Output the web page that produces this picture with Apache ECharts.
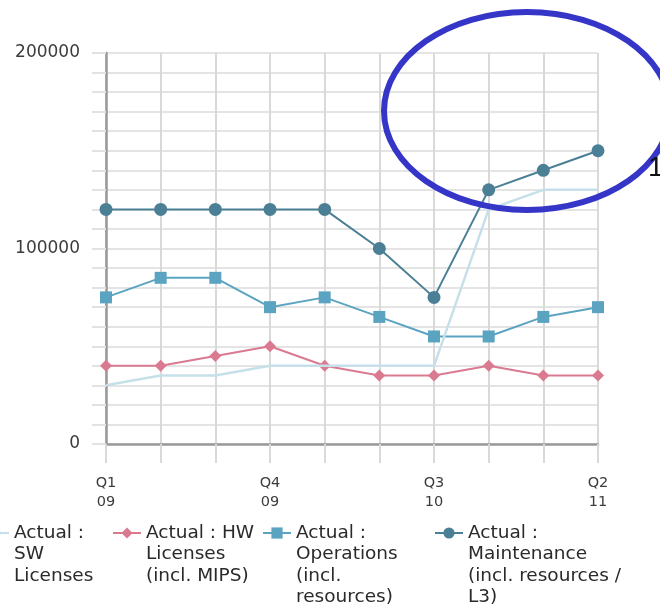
<!DOCTYPE html>
<html>
<head>
<meta charset="utf-8">
<script src="https://cdn.jsdelivr.net/npm/echarts@6/dist/echarts.min.js"></script>
<style>
  html, body { margin: 0; padding: 0; background: #ffffff; }
  #chart { width: 660px; height: 605px; }
</style>
</head>
<body>
<div id="chart"></div>
<script>
// Quarterly actuals, Q1 2009 – Q2 2011
var quarters = ['Q1\n09', 'Q2\n09', 'Q3\n09', 'Q4\n09', 'Q1\n10', 'Q2\n10', 'Q3\n10', 'Q4\n10', 'Q1\n11', 'Q2\n11'];
var yTickLabels = [0, 100000, 200000];

var swLicenses   = [30000, 35000, 35000, 40000, 40000, 40000, 40000, 120000, 130000, 130000];
var hwLicenses   = [40000, 40000, 45000, 50000, 40000, 35000, 35000, 40000, 35000, 35000];
var operations   = [75000, 85000, 85000, 70000, 75000, 65000, 55000, 55000, 65000, 70000];
var maintenance  = [120000, 120000, 120000, 120000, 120000, 100000, 75000, 130000, 140000, 150000];

var names = [
  'Actual :\nSW\nLicenses',
  'Actual : HW\nLicenses\n(incl. MIPS)',
  'Actual :\nOperations\n(incl.\nresources)',
  'Actual :\nMaintenance\n(incl. resources /\nL3)'
];
var colors = ['#c6e0e9', '#da7a90', '#5ba4c1', '#4b7f95'];

var FONT = 'DejaVu Sans';
var LEG_LINE = 21.5;
var LEG_Y = 533;            // centre of the first legend text line
var legendLefts = [-20, 112, 262, 434];

// One legend per series so each block can sit at its own x position.
// Blank lines before the name keep the icon level with the first text line.
function legendFor(i) {
  var lines = names[i].split('\n').length;
  var lead = new Array(lines).join('\n');
  return {
    data: [names[i]],
    left: legendLefts[i],
    top: LEG_Y - (2 * lines - 1) * LEG_LINE / 2,
    padding: 0,
    itemWidth: 28,
    itemHeight: 14,
    itemGap: 0,
    selectedMode: false,
    formatter: function (n) { return lead + n; },
    textStyle: {
      fontFamily: FONT,
      fontSize: 18.5,
      color: '#2a2a2a',
      lineHeight: LEG_LINE
    }
  };
}

var chart = echarts.init(document.getElementById('chart'), null, { renderer: 'canvas' });

chart.setOption({
  backgroundColor: '#ffffff',
  animation: false,
  grid: { left: 106, right: 62, top: 53, bottom: 161, containLabel: false },
  legend: [legendFor(0), legendFor(1), legendFor(2), legendFor(3)],
  xAxis: {
    type: 'category',
    data: quarters,
    boundaryGap: false,
    axisLine: { lineStyle: { color: '#999999', width: 2.5 } },
    axisTick: { show: true, interval: 0, length: 19, lineStyle: { color: '#d9d9d9', width: 2 } },
    axisLabel: {
      interval: 2,
      margin: 30,
      fontFamily: FONT,
      fontSize: 14.5,
      lineHeight: 19,
      color: '#3c3c3c'
    },
    splitLine: { show: true, interval: 0, lineStyle: { color: '#d9d9d9', width: 2 } }
  },
  yAxis: {
    type: 'value',
    min: 0,
    max: 200000,
    interval: 10000,
    axisLine: { show: true, lineStyle: { color: '#999999', width: 2.5 } },
    axisTick: { show: true, length: 14, lineStyle: { color: '#e2e2e2', width: 2 } },
    axisLabel: {
      margin: 26,
      fontFamily: FONT,
      fontSize: 17,
      color: '#3c3c3c',
      formatter: function (v) { return yTickLabels.indexOf(v) >= 0 ? String(v) : ''; }
    },
    splitLine: { lineStyle: { color: '#e4e4e4', width: 2 } }
  },
  series: [
    {
      name: names[0], type: 'line', data: swLicenses, z: 5,
      symbol: 'none', showSymbol: false,
      lineStyle: { color: colors[0], width: 2.5 }, itemStyle: { color: colors[0] }
    },
    {
      name: names[1], type: 'line', data: hwLicenses, z: 2,
      symbol: 'diamond', symbolSize: 12,
      lineStyle: { color: colors[1], width: 2 }, itemStyle: { color: colors[1] }
    },
    {
      name: names[2], type: 'line', data: operations, z: 3,
      symbol: 'rect', symbolSize: 12,
      lineStyle: { color: colors[2], width: 2 }, itemStyle: { color: colors[2] }
    },
    {
      name: names[3], type: 'line', data: maintenance, z: 4,
      symbol: 'circle', symbolSize: 13,
      lineStyle: { color: colors[3], width: 2 }, itemStyle: { color: colors[3] }
    }
  ],
  graphic: [
    {
      type: 'ellipse',
      shape: { cx: 527, cy: 111, rx: 143, ry: 99 },
      style: { fill: 'none', stroke: '#3535c8', lineWidth: 6 },
      z: 100
    },
    {
      type: 'text',
      left: 648, top: 154,
      style: { text: '1', fontFamily: 'Liberation Sans', fontSize: 28, fill: '#111111' },
      z: 100
    }
  ]
});
</script>
</body>
</html>
